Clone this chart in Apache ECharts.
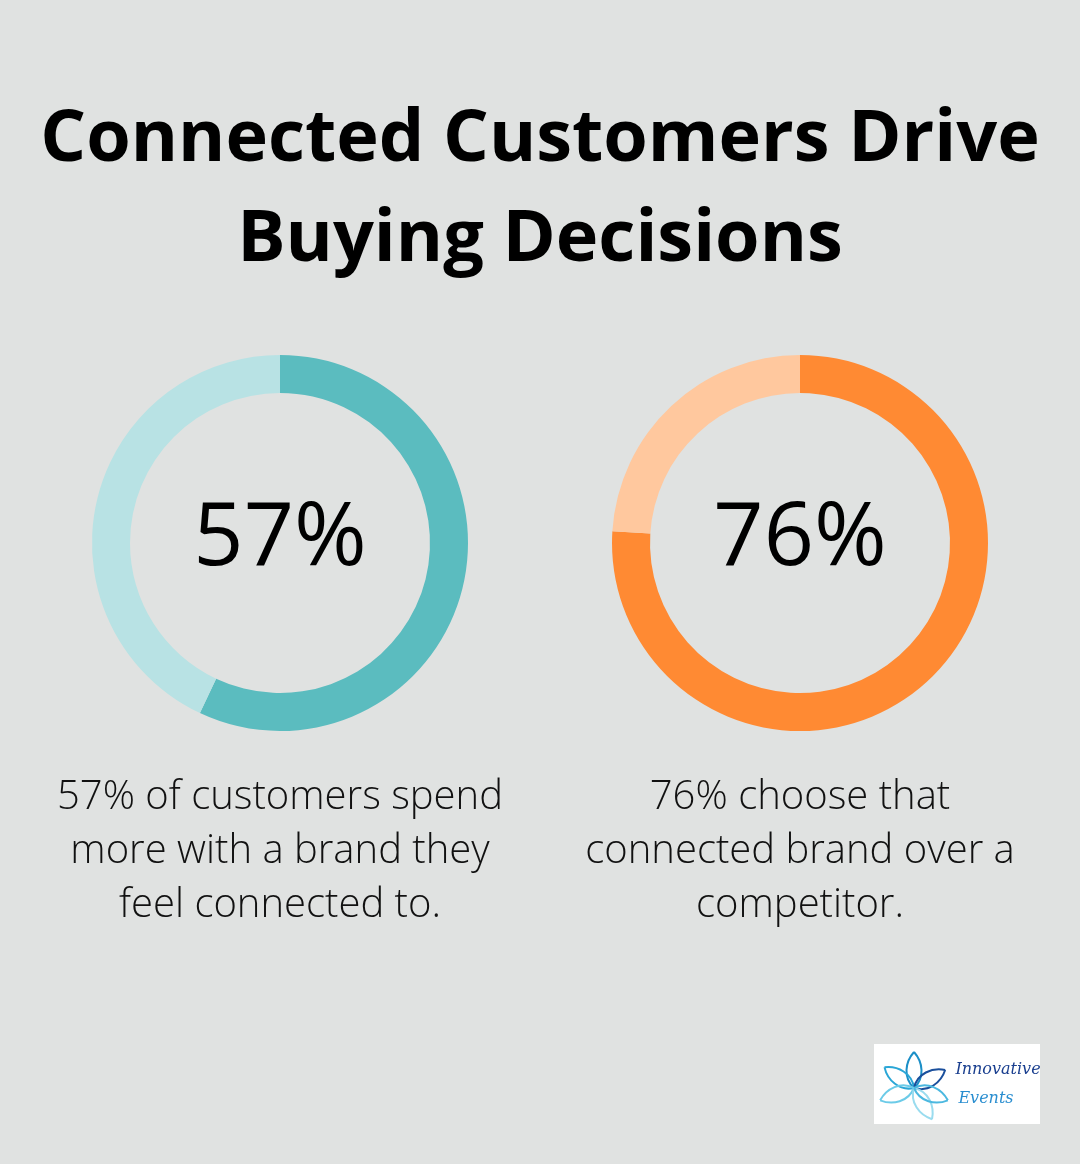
<!DOCTYPE html>
<html>
<head>
<meta charset="utf-8">
<script src="https://cdn.jsdelivr.net/npm/echarts@6/dist/echarts.min.js"></script>
<style>
  html, body { margin: 0; padding: 0; background: #e0e2e1; }
  #chart { width: 1080px; height: 1164px; }
</style>
</head>
<body>
<div id="chart"></div>
<script>
var titleLines = ['Connected Customers Drive', 'Buying Decisions'];
var percents = [57, 76];
var captions = [
    ['57% of customers spend', 'more with a brand they', 'feel connected to.'],
    ['76% choose that', 'connected brand over a', 'competitor.']
];
var darkColors = ['#5bbcbf', '#ff8a33'];
var lightColors = ['#b8e2e4', '#ffc89e'];
var centersX = [280, 800];

var chart = echarts.init(document.getElementById('chart'));

var series = [];
var graphic = [];

for (var i = 0; i < percents.length; i++) {
    series.push({
        type: 'pie',
        center: [centersX[i], 543],
        radius: [150, 188],
        startAngle: 90,
        clockwise: true,
        silent: true,
        label: { show: false },
        labelLine: { show: false },
        itemStyle: { borderWidth: 0 },
        data: [
            { value: percents[i], itemStyle: { color: darkColors[i] } },
            { value: 100 - percents[i], itemStyle: { color: lightColors[i] } }
        ]
    });
    var cx = centersX[i];
    graphic.push({
        type: 'text',
        x: cx, y: 540,
        style: {
            text: percents[i] + '%',
            font: '500 88px "Open Sans"',
            fill: '#000',
            align: 'center',
            verticalAlign: 'middle'
        }
    });
    for (var j = 0; j < captions[i].length; j++) {
        graphic.push({
            type: 'text',
            x: cx, y: 798 + j * 54,
            style: {
                text: captions[i][j],
                font: '300 40px "Open Sans"',
                fill: '#111',
                align: 'center',
                verticalAlign: 'middle'
            }
        });
    }
}

for (var k = 0; k < titleLines.length; k++) {
    graphic.push({
        type: 'text',
        x: 540, y: 140 + k * 100,
        style: {
            text: titleLines[k],
            font: 'bold 72px "Open Sans"',
            fill: '#000',
            align: 'center',
            verticalAlign: 'middle'
        }
    });
}

// logo box
graphic.push({
    type: 'rect',
    shape: { x: 874, y: 1044, width: 166, height: 80 },
    style: { fill: '#fff' }
});
var petalColors = ['#1c8fc7', '#2aa6d6', '#1a4f9c', '#6ccbe8', '#9adcef', '#4bb8e0'];
var petalAngles = [0, 55, -60, 110, -150, -110];
for (var p = 0; p < petalAngles.length; p++) {
    var petal = { type: 'group', x: 914, y: 1088, rotation: petalAngles[p] * Math.PI / 180, children: [] };
    petal.children.push({
        type: 'bezierCurve',
        shape: { x1: 0, y1: 0, x2: 0, y2: -36, cpx1: -11, cpy1: -10, cpx2: -9, cpy2: -26 },
        style: { fill: 'none', stroke: petalColors[p], lineWidth: 2 }
    });
    petal.children.push({
        type: 'bezierCurve',
        shape: { x1: 0, y1: 0, x2: 0, y2: -36, cpx1: 11, cpy1: -10, cpx2: 9, cpy2: -26 },
        style: { fill: 'none', stroke: petalColors[p], lineWidth: 2 }
    });
    graphic.push(petal);
}
graphic.push({
    type: 'text', x: 998, y: 1070,
    style: { text: 'Innovative', font: 'italic 16px "DejaVu Serif"', fill: '#1a3f8f', align: 'center', verticalAlign: 'middle' }
});
graphic.push({
    type: 'text', x: 986, y: 1099,
    style: { text: 'Events', font: 'italic 16px "DejaVu Serif"', fill: '#2a8ed0', align: 'center', verticalAlign: 'middle' }
});

chart.setOption({
    backgroundColor: '#e0e2e1',
    animation: false,
    series: series,
    graphic: graphic
});
</script>
</body>
</html>
